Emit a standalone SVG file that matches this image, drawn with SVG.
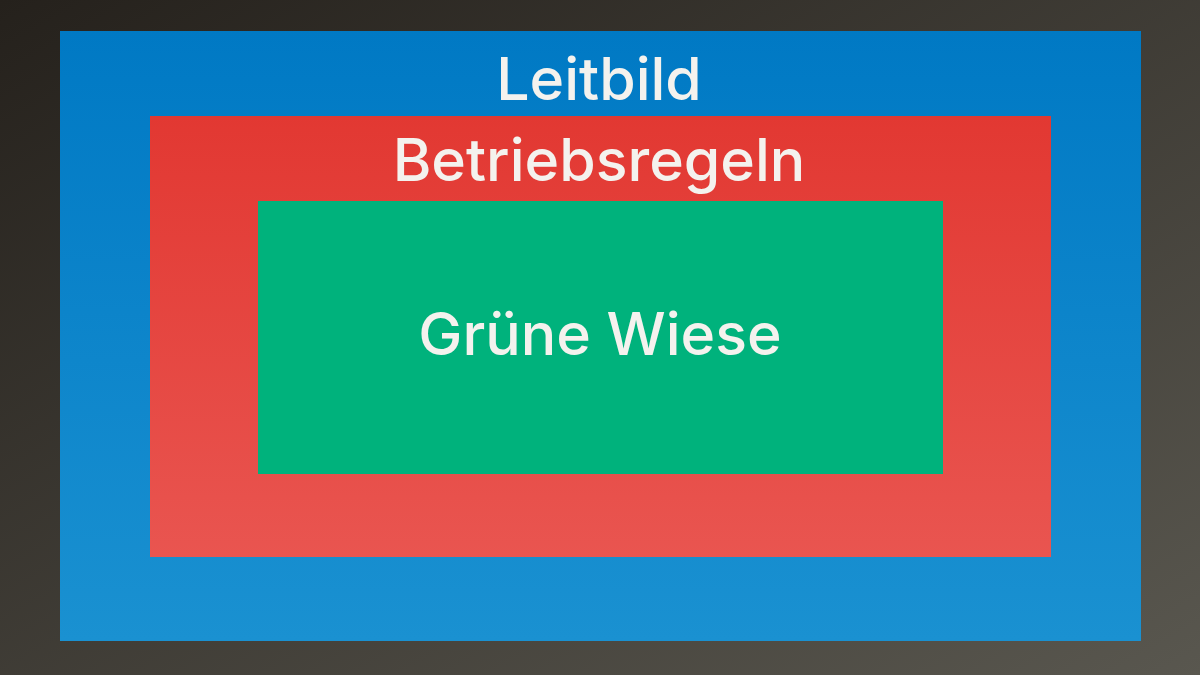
<svg xmlns="http://www.w3.org/2000/svg" width="1200" height="675" viewBox="0 0 1200 675">
<defs>
<linearGradient id="bg" x1="0" y1="0" x2="1" y2="1">
<stop offset="0" stop-color="#25211c"/>
<stop offset="1" stop-color="#59574f"/>
</linearGradient>
<linearGradient id="blue" x1="0" y1="0" x2="0" y2="1">
<stop offset="0" stop-color="#0079c4"/>
<stop offset="1" stop-color="#1a91d1"/>
</linearGradient>
<linearGradient id="red" x1="0" y1="0" x2="0" y2="1">
<stop offset="0" stop-color="#e23832"/>
<stop offset="1" stop-color="#e95550"/>
</linearGradient>
<style>
.lbl{font-family:Inter,"Liberation Sans",sans-serif;fill:#f4f2ee;text-anchor:middle;font-weight:500;font-size:59px}
</style>
</defs>
<rect x="0" y="0" width="1200" height="675" fill="url(#bg)"/>
<g id="leitbild">
<rect x="60" y="31" width="1081" height="610" fill="url(#blue)"/>
<text class="lbl" x="599" y="100">Leitbild</text>
</g>
<g id="betriebsregeln">
<rect x="150" y="116" width="901" height="441" fill="url(#red)"/>
<text class="lbl" x="599" y="181">Betriebsregeln</text>
</g>
<g id="gruene-wiese">
<rect x="258" y="201" width="685" height="273" fill="#00b27c"/>
<text class="lbl" x="600" y="355">Grüne Wiese</text>
</g>
<g id="connectors"/>
</svg>
